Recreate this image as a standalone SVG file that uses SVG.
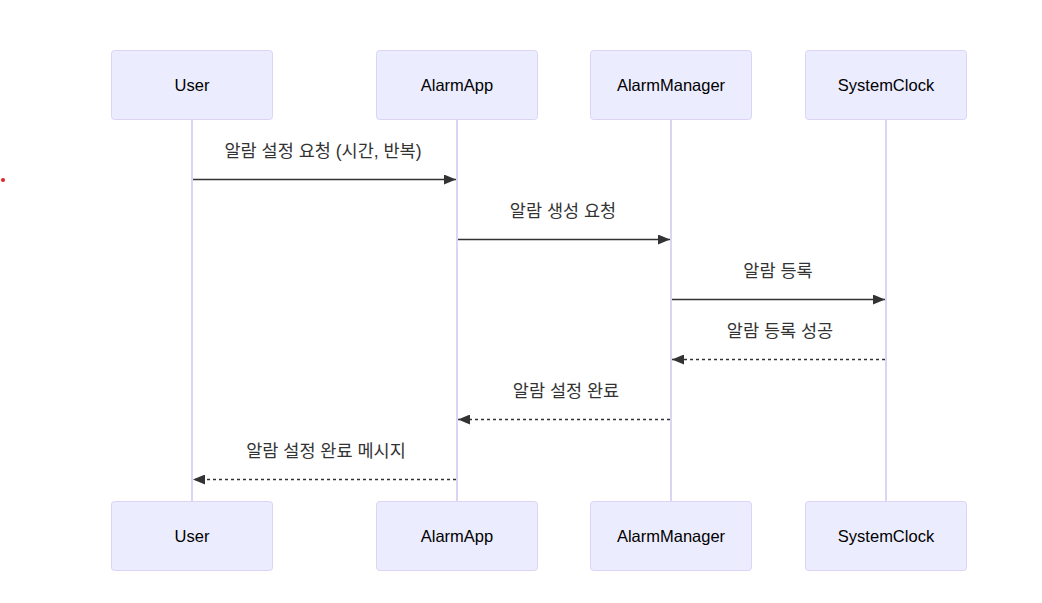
<svg xmlns="http://www.w3.org/2000/svg" width="1042" height="603" viewBox="0 0 1042 603">
<style>
.actor{fill:#ECECFF;stroke:#DCD3F5;stroke-width:1;}
.life{stroke:#DCD3F5;stroke-width:2;fill:none;}
.atext{font-family:"Liberation Sans","Noto Sans CJK KR",sans-serif;font-size:16.5px;fill:#000;text-anchor:middle;dominant-baseline:central;}
.msg{stroke:#333;stroke-width:1.5;fill:none;}
.dash{stroke-dasharray:3,3;}
.mtext{font-family:"Liberation Sans","Noto Sans CJK KR",sans-serif;font-size:17.5px;fill:#333;text-anchor:middle;dominant-baseline:central;}
</style>
<defs>
<marker id="arr" viewBox="0 0 12 10" refX="12" refY="5" markerWidth="12" markerHeight="10" markerUnits="userSpaceOnUse" orient="auto">
<path d="M0,0 L12,5 L0,10 z" fill="#333"/>
</marker>
</defs>
<rect width="1042" height="603" fill="#fff"/>
<circle cx="3" cy="180" r="2" fill="#e0202a"/>
<g id="lifelines">
<line class="life" x1="192" y1="120" x2="192" y2="501"/>
<line class="life" x1="457" y1="120" x2="457" y2="501"/>
<line class="life" x1="671" y1="120" x2="671" y2="501"/>
<line class="life" x1="886" y1="120" x2="886" y2="501"/>
</g>
<g id="User">
<rect class="actor" x="111.5" y="50.5" width="161" height="69" rx="3"/>
<text class="atext" x="192" y="85">User</text>
</g>
<g id="AlarmApp">
<rect class="actor" x="376.5" y="50.5" width="161" height="69" rx="3"/>
<text class="atext" x="457" y="85">AlarmApp</text>
</g>
<g id="AlarmManager">
<rect class="actor" x="590.5" y="50.5" width="161" height="69" rx="3"/>
<text class="atext" x="671" y="85">AlarmManager</text>
</g>
<g id="SystemClock">
<rect class="actor" x="805.5" y="50.5" width="161" height="69" rx="3"/>
<text class="atext" x="886" y="85">SystemClock</text>
</g>
<g id="User_bottom">
<rect class="actor" x="111.5" y="501.5" width="161" height="69" rx="3"/>
<text class="atext" x="192" y="536">User</text>
</g>
<g id="AlarmApp_bottom">
<rect class="actor" x="376.5" y="501.5" width="161" height="69" rx="3"/>
<text class="atext" x="457" y="536">AlarmApp</text>
</g>
<g id="AlarmManager_bottom">
<rect class="actor" x="590.5" y="501.5" width="161" height="69" rx="3"/>
<text class="atext" x="671" y="536">AlarmManager</text>
</g>
<g id="SystemClock_bottom">
<rect class="actor" x="805.5" y="501.5" width="161" height="69" rx="3"/>
<text class="atext" x="886" y="536">SystemClock</text>
</g>
<g id="connectors">
<line class="msg" x1="193" y1="179.5" x2="456" y2="179.5" marker-end="url(#arr)"/>
<text class="mtext" x="323" y="151">알람 설정 요청 (시간, 반복)</text>
<line class="msg" x1="458" y1="239.5" x2="670" y2="239.5" marker-end="url(#arr)"/>
<text class="mtext" x="563" y="211">알람 생성 요청</text>
<line class="msg" x1="672" y1="299.5" x2="885" y2="299.5" marker-end="url(#arr)"/>
<text class="mtext" x="778" y="271">알람 등록</text>
<line class="msg dash" x1="885" y1="359.5" x2="672" y2="359.5" marker-end="url(#arr)"/>
<text class="mtext" x="780" y="331">알람 등록 성공</text>
<line class="msg dash" x1="670" y1="419.5" x2="458" y2="419.5" marker-end="url(#arr)"/>
<text class="mtext" x="566" y="391">알람 설정 완료</text>
<line class="msg dash" x1="456" y1="479.5" x2="193" y2="479.5" marker-end="url(#arr)"/>
<text class="mtext" x="326" y="451">알람 설정 완료 메시지</text>
</g>
</svg>
